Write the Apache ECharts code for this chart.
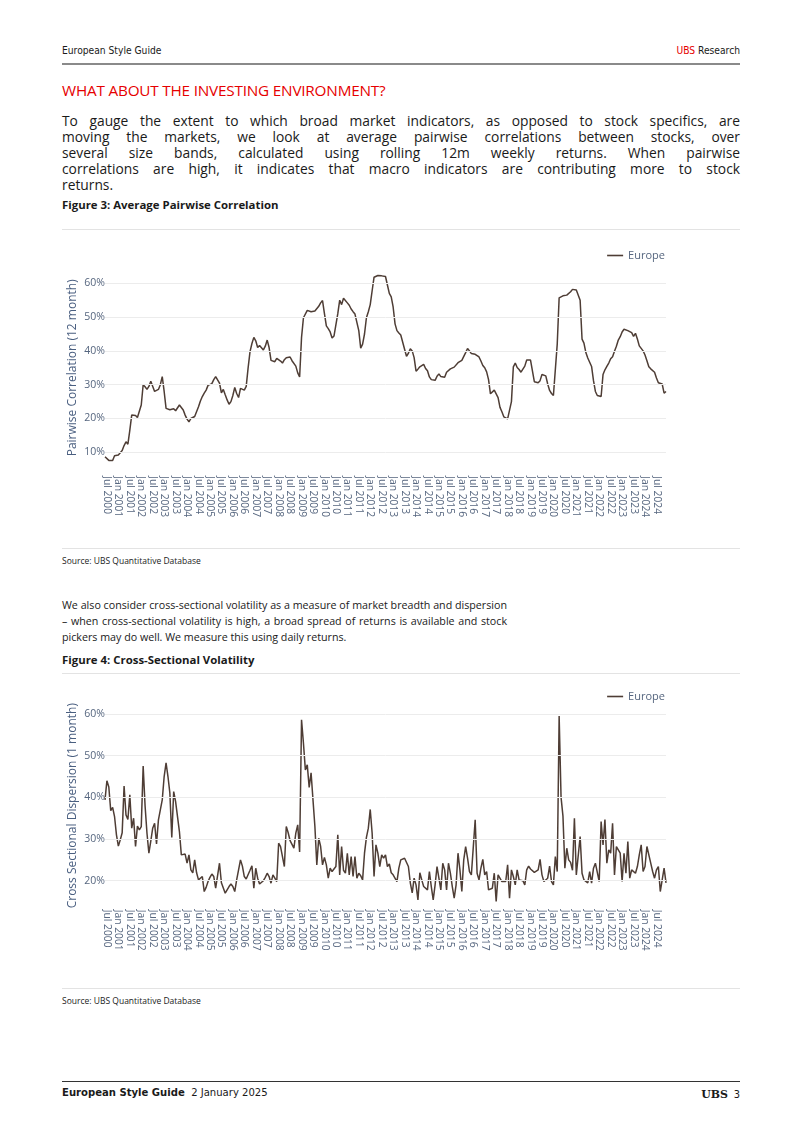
<!DOCTYPE html>
<html><head><meta charset="utf-8">
<script src="https://cdn.jsdelivr.net/npm/echarts@6/dist/echarts.min.js"></script>
<style>
html,body{margin:0;padding:0;background:#fff;}
#page{position:relative;width:802px;height:1134px;font-family:"Open Sans","Noto Sans",sans-serif;color:#1a1a1a;}
.abs{position:absolute;}
.hdr{font-family:"Liberation Sans Narrow","DejaVu Sans Condensed","Open Sans",sans-serif;font-size:10.2px;}
.para{line-height:16px;}
.para div{text-align:justify;text-align-last:justify;white-space:nowrap;}
.para div.last{text-align-last:left;}
.fig{font-size:11.4px;font-weight:bold;}
.src{font-size:8.5px;color:#222;}
.hline{position:absolute;height:0;}
</style></head>
<body><div id="page">
<div class="abs hdr" style="left:62px;top:45px;">European Style Guide</div>
<div class="abs hdr" style="right:62px;top:45px;"><span style="color:#e60000">UBS</span> Research</div>
<div class="hline" style="left:62px;width:678px;top:63px;border-top:2px solid #8a8a8a;"></div>
<div class="abs" style="left:62px;top:80px;font-size:15.3px;color:#e60000;letter-spacing:-0.2px;">WHAT ABOUT THE INVESTING ENVIRONMENT?</div>
<div class="abs para" style="left:62px;top:113px;width:678px;font-size:13.8px;">
<div>To gauge the extent to which broad market indicators, as opposed to stock specifics, are</div>
<div>moving the markets, we look at average pairwise correlations between stocks, over</div>
<div>several size bands, calculated using rolling 12m weekly returns. When pairwise</div>
<div>correlations are high, it indicates that macro indicators are contributing more to stock</div>
<div class="last">returns.</div>
</div>
<div class="abs fig" style="left:62px;top:197px;">Figure 3: Average Pairwise Correlation</div>
<div class="hline" style="left:62px;width:678px;top:229px;border-top:1px solid #e3e3e3;"></div>
<div id="c1" class="abs" style="left:0;top:230px;width:802px;height:318px;"></div>
<div class="hline" style="left:62px;width:678px;top:548px;border-top:1px solid #e3e3e3;"></div>
<div class="abs src" style="left:62px;top:555px;">Source: UBS Quantitative Database</div>
<div class="abs para" style="left:62px;top:597px;width:445px;font-size:10.7px;">
<div>We also consider cross-sectional volatility as a measure of market breadth and dispersion</div>
<div>– when cross-sectional volatility is high, a broad spread of returns is available and stock</div>
<div class="last">pickers may do well. We measure this using daily returns.</div>
</div>
<div class="abs fig" style="left:62px;top:652px;">Figure 4: Cross-Sectional Volatility</div>
<div class="hline" style="left:62px;width:678px;top:673px;border-top:1px solid #e3e3e3;"></div>
<div id="c2" class="abs" style="left:0;top:674px;width:802px;height:314px;"></div>
<div class="hline" style="left:62px;width:678px;top:988px;border-top:1px solid #e3e3e3;"></div>
<div class="abs src" style="left:62px;top:995px;">Source: UBS Quantitative Database</div>
<div class="hline" style="left:62px;width:678px;top:1081px;border-top:1px solid #333;"></div>
<div class="abs hdr" style="left:62px;top:1086px;font-size:11.2px;"><b>European Style Guide</b>&nbsp; 2 January 2025</div>
<div class="abs" style="right:62px;top:1086px;font-size:11px;"><span style="font-family:'DejaVu Serif','Liberation Serif',serif;font-weight:bold;font-size:11px;">UBS</span>&nbsp; <span class="hdr" style="font-size:11px;">3</span></div>
</div>
<script>
// ---- data ----
const monthNames = ['Jan','Feb','Mar','Apr','May','Jun','Jul','Aug','Sep','Oct','Nov','Dec'];
const startYear = 2000, startMonth = 5, endYear = 2024;
const categories = [];
for (let y = startYear; y <= endYear; y++) {
  for (let m = 0; m < 12; m++) {
    if (y === startYear && m < startMonth) continue;
    categories.push(monthNames[m] + ' ' + y);
  }
}
const seriesName = 'Europe';
const pairwiseCorrelation = [
8.7,8.2,7.6,7.5,7.6,9.0,9.2,9.2,9.4,10.5,12.0,13.1,12.4,16.5,21.0,21.4,20.9,20.3,20.5,24.0,
30.0,29.4,28.6,29.5,31.0,31.4,28.0,28.2,28.6,30.0,32.4,28.0,23.0,22.8,22.6,22.5,22.9,22.3,22.5,24.0,
24.4,22.5,21.0,19.8,19.0,20.0,20.5,20.6,20.8,23.5,25.2,26.5,27.5,28.4,29.8,30.2,30.3,31.5,32.4,32.3,
30.5,27.6,28.6,27.0,25.5,24.2,25.0,26.8,29.2,27.4,26.2,28.9,28.6,28.4,29.5,35.0,39.8,42.2,44.0,43.0,
41.0,41.6,41.4,40.3,41.4,43.2,41.0,37.2,36.7,36.8,37.8,37.5,37.0,36.4,37.4,38.0,38.3,38.2,37.1,36.7,
35.5,33.5,32.3,44.0,49.8,50.3,52.0,51.8,51.6,51.6,51.8,51.9,53.2,54.2,54.9,51.0,47.4,46.6,45.6,43.8,
44.4,44.7,51.0,55.0,53.7,55.6,56.0,54.2,53.5,52.4,51.6,50.9,50.7,46.0,40.8,42.0,45.0,49.8,51.6,53.7,
57.8,61.8,62.3,62.3,61.9,62.2,62.5,62.0,59.5,57.0,56.0,53.0,48.0,46.0,45.3,44.7,44.7,40.5,38.4,39.3,
40.6,40.0,38.0,34.0,34.6,35.3,35.6,36.0,34.8,34.1,32.3,31.5,31.5,31.3,32.5,33.2,32.4,31.9,32.2,33.7,
34.0,34.7,35.0,35.2,35.5,36.5,36.5,37.2,37.0,39.5,40.7,40.0,39.2,38.9,39.0,38.9,38.2,37.0,35.7,35.0,
33.8,31.5,27.3,27.3,28.4,27.9,26.2,23.3,22.0,20.5,20.0,19.9,20.2,25.0,35.3,36.4,35.1,34.5,33.7,33.9,
35.5,37.3,37.3,37.3,37.1,30.9,30.4,30.6,31.2,33.0,33.3,32.6,30.2,28.3,27.4,26.8,26.5,42.0,55.7,56.0,
56.3,56.5,56.5,56.9,57.5,58.2,58.4,58.0,58.0,55.0,43.5,42.3,39.5,37.9,37.4,35.4,31.2,28.0,26.8,27.0,
26.5,33.0,34.4,35.4,36.4,37.7,38.3,39.9,41.4,43.2,44.2,45.6,46.4,46.5,46.0,45.9,45.4,44.3,45.2,43.5,
41.5,41.2,40.0,38.8,37.1,35.3,34.7,34.4,33.7,32.0,30.6,30.2,30.2,27.5,28.0
];
const crossSectionalDispersion = [
39.4,44.0,42.5,36.8,37.6,35.4,31.0,28.3,29.8,31.5,42.7,35.8,34.7,40.6,32.6,35.0,28.2,33.1,32.2,33.0,
47.5,38.0,31.4,26.6,29.5,32.6,33.8,28.8,34.6,37.0,39.4,45.0,48.3,45.0,41.0,30.4,41.4,39.0,39.0,31.8,
26.2,26.4,26.4,24.2,26.2,22.6,21.9,25.0,21.9,20.2,20.6,21.0,17.4,18.4,19.8,20.8,21.6,21.0,18.2,18.6,
24.2,19.5,19.8,17.0,16.6,18.6,19.2,18.6,17.4,20.2,20.2,25.0,23.5,21.0,20.4,20.0,22.5,23.6,18.2,23.0,
20.6,19.2,19.5,20.0,20.8,21.8,21.0,19.4,21.4,20.6,19.8,29.0,28.2,28.6,23.4,33.0,31.5,29.6,29.4,27.8,
31.4,33.4,26.9,58.6,53.0,46.6,47.8,42.4,45.9,39.4,33.0,23.8,30.2,28.2,23.8,25.6,23.8,20.6,23.0,22.2,
21.8,23.4,31.0,21.4,28.2,22.5,21.8,26.6,21.4,25.8,21.0,25.8,20.6,21.8,21.2,20.2,26.6,30.4,32.6,37.1,
31.4,21.0,28.6,26.6,23.4,26.2,25.4,26.2,23.4,24.0,21.9,21.4,21.0,19.8,23.0,25.0,25.0,25.4,25.8,23.4,
19.5,17.1,20.6,19.0,15.4,21.9,20.2,18.6,19.0,17.8,22.2,18.6,15.4,19.0,23.4,23.0,17.8,24.2,22.6,17.8,
24.2,21.8,18.6,15.8,19.0,26.6,22.6,17.4,25.0,28.2,25.4,22.2,21.4,21.8,34.6,21.8,20.2,23.0,25.1,21.4,
22.2,17.8,17.8,18.2,21.8,15.0,21.4,21.8,19.8,19.4,19.8,23.8,15.8,22.6,21.0,19.0,22.6,20.2,19.8,20.0,
19.0,22.6,23.5,22.8,23.2,22.0,22.4,22.6,25.1,21.4,19.8,20.2,20.6,23.5,19.8,19.0,25.8,22.2,59.5,40.0,
35.5,23.0,27.8,25.0,24.4,22.5,35.0,21.4,21.8,30.6,21.8,20.2,20.2,19.5,22.2,19.4,23.0,24.2,24.0,19.8,
34.2,28.6,34.7,24.2,27.4,26.6,33.8,21.4,28.2,27.8,26.6,19.8,26.6,21.8,29.4,20.6,22.6,22.6,21.8,23.4,
26.2,28.6,22.2,23.4,28.2,28.6,24.2,22.2,20.6,22.6,23.4,17.4,20.2,23.0,19.5
];
const yTicks1 = [10, 20, 30, 40, 50, 60];
const yTicks2 = [20, 30, 40, 50, 60];

// ---- chart builder ----
const LINE = '#4e3d35', AX = '#56667f';
function build(el, values, ticks, yName, yMin, yMax, yStep, gridTop, gridH, legendTop, labelMargin) {
  const ch = echarts.init(document.getElementById(el), null, {renderer: 'canvas'});
  ch.setOption({
    animation: false,
    legend: {
      data: [seriesName], right: 132, top: legendTop, itemWidth: 16, itemHeight: 1.6,
      icon: 'rect', itemStyle: {color: LINE},
      textStyle: {color: AX, fontSize: 11, fontFamily: 'Open Sans'}, itemGap: 5
    },
    grid: {left: 105, width: 561, top: gridTop, height: gridH},
    xAxis: {
      type: 'category', data: categories, boundaryGap: false,
      axisLine: {show: false}, axisTick: {show: false}, splitLine: {show: false},
      axisLabel: {
        rotate: -90, color: AX, fontSize: 10.3, fontFamily: 'Open Sans', margin: labelMargin,
        interval: function (i, v) { return v.indexOf('Jan') === 0 || v.indexOf('Jul') === 0; }
      }
    },
    yAxis: {
      type: 'value', min: yMin, max: yMax, interval: yStep,
      axisLine: {show: false}, axisTick: {show: false}, splitLine: {show: false},
      axisLabel: {
        color: AX, fontSize: 10.5, fontFamily: 'Open Sans', margin: 0,
        formatter: function (v) { return ticks.indexOf(v) >= 0 ? v + '%' : ''; }
      },
      name: yName, nameLocation: 'middle', nameGap: 26, nameMoveOverlap: false,
      nameTextStyle: {color: '#4a5f80', fontSize: 12, fontFamily: 'Open Sans'}
    },
    series: [
      {
        type: 'line', data: [], z: 1, silent: true,
        markLine: {
          silent: true, symbol: ['none', 'none'], label: {show: false},
          lineStyle: {color: '#ececec', width: 1, type: 'solid'},
          data: ticks.map(function (t) { return {yAxis: t}; })
        }
      },
      {
        name: seriesName, type: 'line', data: values, z: 3, symbol: 'none',
        lineStyle: {color: LINE, width: 1.5}, itemStyle: {color: LINE}
      }
    ]
  });
}
build('c1', pairwiseCorrelation, yTicks1, 'Pairwise Correlation (12 month)', 5, 65, 5, 36.4, 202.8, 15, 7);
build('c2', crossSectionalDispersion, yTicks2, 'Cross Sectional Dispersion (1 month)', 14, 62, 2, 31.7, 200, 12, 4);
</script>
</body></html>
